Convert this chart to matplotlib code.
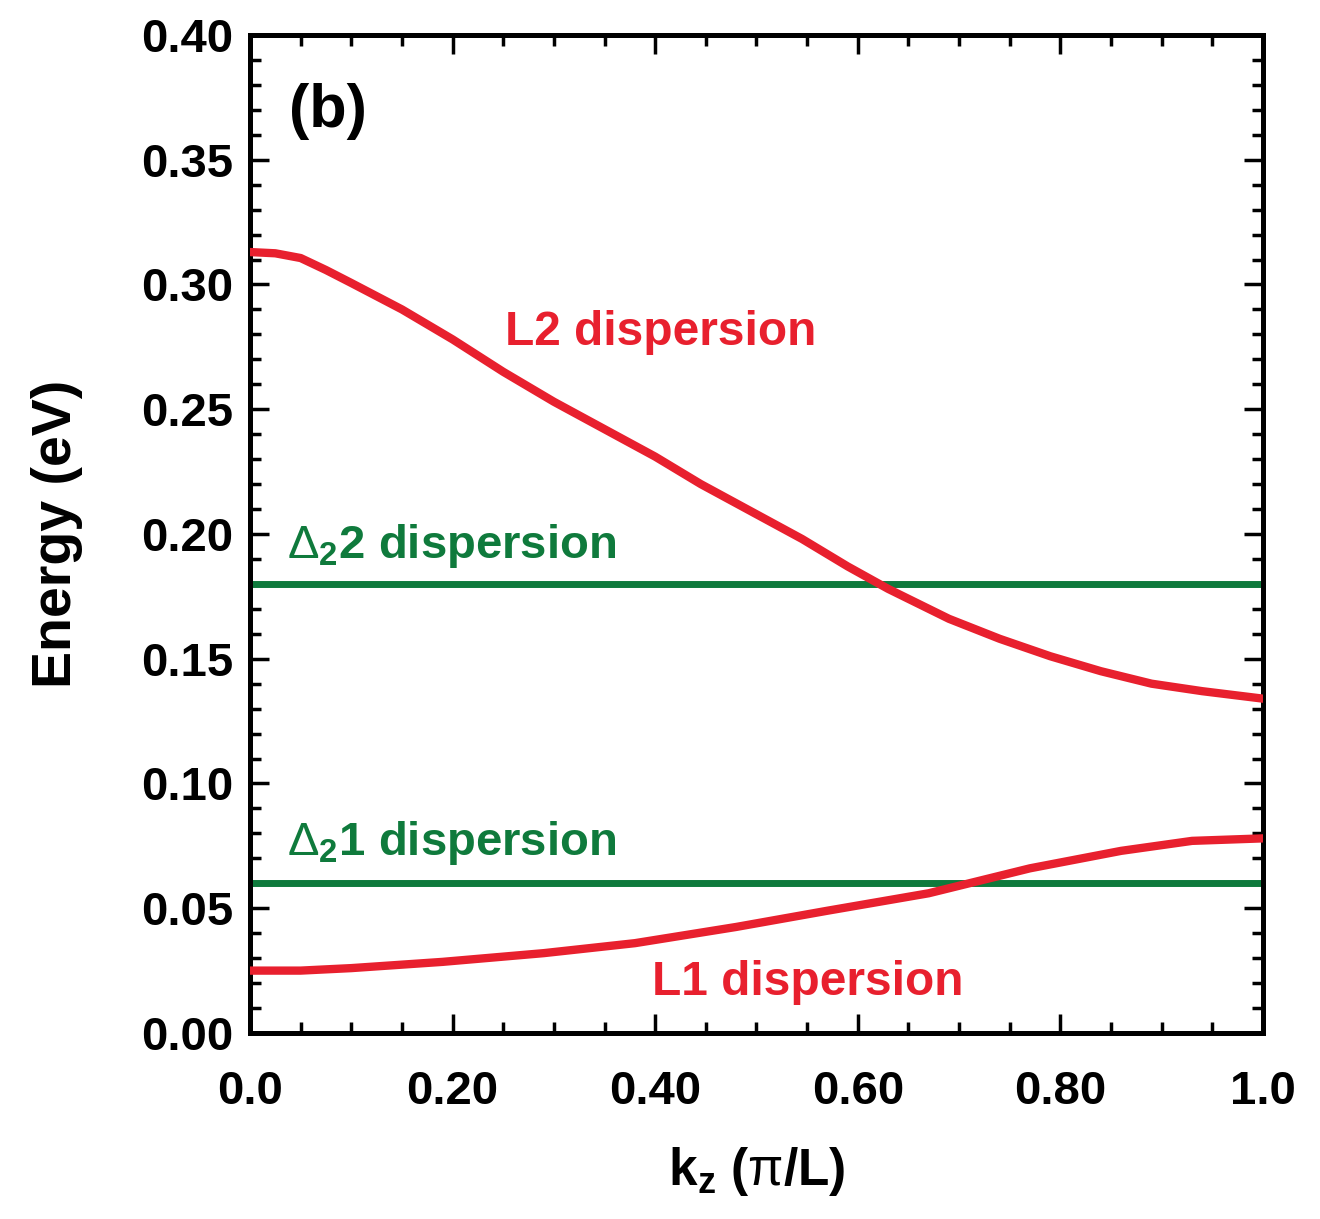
import matplotlib
matplotlib.use('Agg')
import matplotlib.pyplot as plt
from matplotlib.ticker import MultipleLocator, FormatStrFormatter

plt.rcParams['font.family'] = ['Liberation Sans', 'DejaVu Sans']
plt.rcParams['mathtext.fontset'] = 'custom'
plt.rcParams['mathtext.rm'] = 'Liberation Sans'
plt.rcParams['mathtext.bf'] = 'Liberation Sans:bold'

# data
kz_l2 = [0.0, 0.025, 0.05, 0.075, 0.10, 0.15, 0.20, 0.25, 0.30, 0.35, 0.40, 0.445, 0.495,
         0.545, 0.59, 0.63, 0.69, 0.74, 0.79, 0.84, 0.89, 0.94, 1.0]
e_l2 = [0.313, 0.3125, 0.3106, 0.3058, 0.3006, 0.290, 0.278, 0.265, 0.253, 0.242, 0.231,
        0.220, 0.209, 0.198, 0.187, 0.178, 0.166, 0.158, 0.151, 0.145, 0.140, 0.137, 0.134]
kz_l1 = [0.0, 0.05, 0.10, 0.19, 0.29, 0.38, 0.48, 0.57, 0.67, 0.71, 0.77, 0.86, 0.93, 1.0]
e_l1 = [0.025, 0.025, 0.026, 0.0285, 0.032, 0.036, 0.0425, 0.049, 0.056, 0.060, 0.066,
        0.073, 0.077, 0.078]
d2_2 = 0.180
d2_1 = 0.060

RED = '#e8202e'; GREEN = '#0f7a3c'

fig = plt.figure(figsize=(13.2, 12.19), dpi=100)
ax = fig.add_axes([0.1894, 0.1526, 0.7674, 0.8187])

ax.axhline(d2_2, color=GREEN, lw=5, zorder=2)
ax.axhline(d2_1, color=GREEN, lw=5, zorder=2)
ax.plot(kz_l2, e_l2, color=RED, lw=6, zorder=3, solid_joinstyle='round')
ax.plot(kz_l1, e_l1, color=RED, lw=6, zorder=3, solid_joinstyle='round')

ax.set_xlim(0, 1.0); ax.set_ylim(0, 0.40)
ax.xaxis.set_minor_locator(MultipleLocator(0.05))
ax.yaxis.set_major_locator(MultipleLocator(0.05)); ax.yaxis.set_minor_locator(MultipleLocator(0.01))
ax.yaxis.set_major_formatter(FormatStrFormatter('%.2f'))
ax.set_xticks([0, 0.2, 0.4, 0.6, 0.8, 1.0])
ax.set_xticklabels(['0.0', '0.20', '0.40', '0.60', '0.80', '1.0'])
ax.tick_params(which='both', direction='in', top=True, right=True, width=2.5)
ax.tick_params(which='major', length=14, labelsize=34)
ax.tick_params(axis='y', which='major', pad=12)
ax.tick_params(axis='x', which='major', pad=27)
ax.tick_params(which='minor', length=8)
for lab in ax.get_xticklabels() + ax.get_yticklabels():
    lab.set_fontweight('bold')
for s in ax.spines.values():
    s.set_linewidth(3.6)

ax.set_ylabel('Energy (eV)', fontsize=40, fontweight='bold', labelpad=42)
ax.set_xlabel(r'k$_\mathbf{z}$ ($\mathrm{\pi}$/L)', fontsize=37, fontweight='bold', labelpad=22)

ax.text(0.038, 0.363, '(b)', fontsize=44, fontweight='bold', va='baseline')
ax.text(0.252, 0.2757, 'L2 dispersion', color=RED, fontsize=34.5, fontweight='bold', va='baseline')
ax.text(0.397, 0.0152, 'L1 dispersion', color=RED, fontsize=34.5, fontweight='bold', va='baseline')
ax.text(0.037, 0.1904, r'$\Delta_\mathbf{2}$2 dispersion', color=GREEN, fontsize=34, fontweight='bold', va='baseline')
ax.text(0.037, 0.0715, r'$\Delta_\mathbf{2}$1 dispersion', color=GREEN, fontsize=34, fontweight='bold', va='baseline')

fig.savefig('out.png', dpi=100, facecolor='white')
